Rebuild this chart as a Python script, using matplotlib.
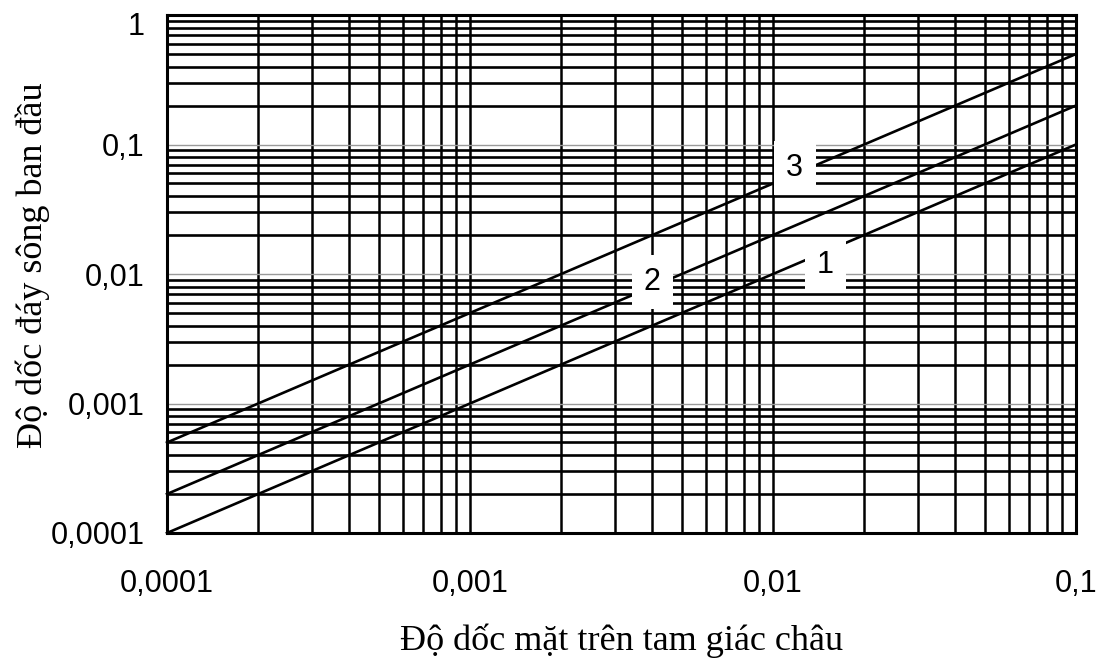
import matplotlib
matplotlib.use("Agg")
import matplotlib.pyplot as plt
import matplotlib.transforms as mtransforms
from matplotlib.ticker import LogLocator, FixedLocator, FixedFormatter, NullFormatter

# ---- data ----
x_limits = [0.0001, 0.1]
y_limits = [0.0001, 1]
line_x = [0.0001, 0.1]
line1_y = [0.0001, 0.1]
line2_y = [0.0002, 0.2]
line3_y = [0.0005, 0.5]
curve_names = ["1", "2", "3"]
label_x = [0.0149, 0.0040, 0.0118]
label_y = [0.0118, 0.0087, 0.066]
x_ticks = [0.0001, 0.001, 0.01, 0.1]
x_ticklabels = ["0,0001", "0,001", "0,01", "0,1"]
y_ticks = [0.0001, 0.001, 0.01, 0.1, 1]
y_ticklabels = ["0,0001", "0,001", "0,01", "0,1", "1"]
x_title = "Độ dốc mặt trên tam giác châu"
y_title = "Độ dốc đáy sông ban đầu"

W, H = 1103, 660
fig = plt.figure(figsize=(W / 100, H / 100), dpi=100)
fig.patch.set_facecolor("white")
left, right, top, bottom = 167, 1076, 15, 533
ax = fig.add_axes([left / W, 1 - bottom / H, (right - left) / W, (bottom - top) / H])

ax.set_xscale("log")
ax.set_yscale("log")
ax.set_xlim(*x_limits)
ax.set_ylim(*y_limits)

ax.xaxis.set_major_locator(FixedLocator(x_ticks))
ax.xaxis.set_major_formatter(FixedFormatter(x_ticklabels))
ax.yaxis.set_major_locator(FixedLocator(y_ticks))
ax.yaxis.set_major_formatter(FixedFormatter(y_ticklabels))
ax.xaxis.set_minor_locator(LogLocator(base=10, subs=range(2, 10), numticks=50))
ax.yaxis.set_minor_locator(LogLocator(base=10, subs=range(2, 10), numticks=50))
ax.xaxis.set_minor_formatter(NullFormatter())
ax.yaxis.set_minor_formatter(NullFormatter())

ax.xaxis.grid(True, which="both", color="black", lw=1.8)
ax.yaxis.grid(True, which="minor", color="black", lw=1.9)
ax.yaxis.grid(True, which="major", color="#9a9a9a", lw=1.0)
ax.set_axisbelow(True)

ax.tick_params(which="both", length=0)
ax.tick_params(axis="y", pad=16, labelsize=22)
ax.tick_params(axis="x", pad=26, labelsize=22)
for lab in ax.get_xticklabels() + ax.get_yticklabels():
    lab.set_family("Liberation Sans")

for s in ax.spines.values():
    s.set_color("black")
    s.set_linewidth(2.2)

for ys in (line1_y, line2_y, line3_y):
    ax.plot(line_x, ys, color="black", lw=1.9, zorder=3, clip_on=False)

for name, lx, ly in zip(curve_names, label_x, label_y):
    ax.text(lx, ly, name, fontsize=22, family="Liberation Sans", ha="center", va="center",
            zorder=5, bbox=dict(boxstyle="square,pad=0.4", fc="white", ec="none"))

ax.set_xlabel(x_title, fontsize=26, family="Liberation Serif", va="center")
ax.xaxis.set_label_coords(0.5, (bottom - 641) / (bottom - top))
ax.set_ylabel(y_title, fontsize=26, family="Liberation Serif", va="center")
ax.yaxis.set_label_coords((33 - left) / (right - left), (bottom - 265) / (bottom - top))

# top label "1" sits slightly below the frame edge
fig.canvas.draw()
ylabs = ax.get_yticklabels()
ylabs[-1].set_transform(ylabs[-1].get_transform() +
                        mtransforms.ScaledTranslation(0, -8 / 100, fig.dpi_scale_trans))

fig.savefig("out.png", dpi=100, facecolor="white")
